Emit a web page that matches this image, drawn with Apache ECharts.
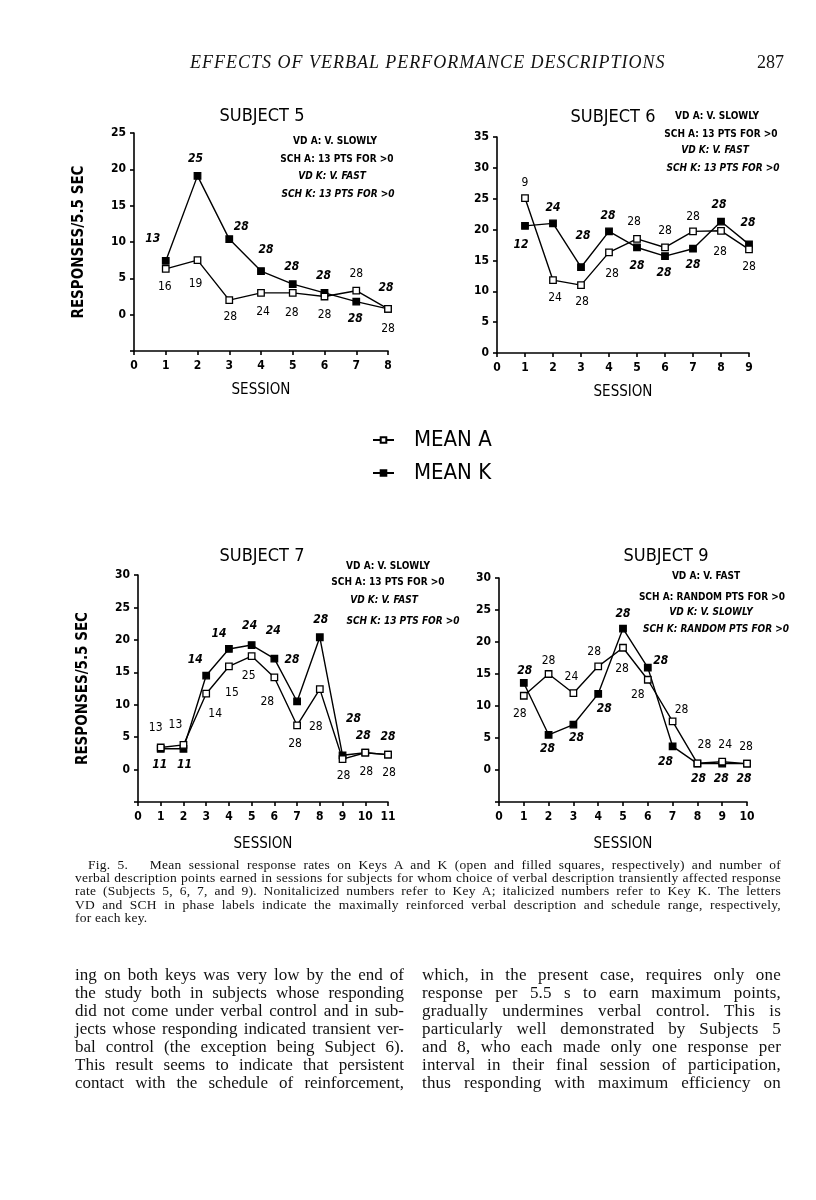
<!DOCTYPE html>
<html>
<head>
<meta charset="utf-8">
<script src="https://cdn.jsdelivr.net/npm/echarts@6/dist/echarts.min.js"></script>
<style>
  html, body { margin:0; padding:0; background:#fff; }
  #page { position:relative; width:816px; height:1200px; overflow:hidden; background:#fff; }
  #chart { position:absolute; left:0; top:0; width:816px; height:1200px; }
  .t { position:absolute; white-space:nowrap; color:#111; font-family:"Liberation Serif","Times New Roman",serif; }
  .j { text-align:justify; text-align-last:justify; white-space:normal; }
  .hdr { font-size:18px; line-height:20px; font-style:italic; letter-spacing:1px; }
  .cap { font-size:13.5px; line-height:13px; letter-spacing:0.25px; }
  .body { font-size:17px; line-height:18px; letter-spacing:0; }
  .rc { letter-spacing:0.2px; }
</style>
</head>
<body>
<div id="page">
  <div id="chart"></div>
  <div class="t hdr" style="left:190px;top:52px;">EFFECTS OF VERBAL PERFORMANCE DESCRIPTIONS</div>
  <div class="t hdr" style="left:757px;top:52px;font-style:normal;letter-spacing:0;">287</div>

  <div class="t cap j" style="left:88px;top:858px;width:693px;">Fig. 5.&nbsp;&nbsp; Mean sessional response rates on Keys A and K (open and filled squares, respectively) and number of</div>
  <div class="t cap j" style="left:75px;top:871px;width:706px;">verbal description points earned in sessions for subjects for whom choice of verbal description transiently affected response</div>
  <div class="t cap j" style="left:75px;top:884px;width:706px;">rate (Subjects 5, 6, 7, and 9). Nonitalicized numbers refer to Key A; italicized numbers refer to Key K. The letters</div>
  <div class="t cap j" style="left:75px;top:898px;width:706px;">VD and SCH in phase labels indicate the maximally reinforced verbal description and schedule range, respectively,</div>
  <div class="t cap" style="left:75px;top:911px;">for each key.</div>

  <div class="t body j" style="left:75px;top:966px;width:329px;">ing on both keys was very low by the end of</div>
  <div class="t body j" style="left:75px;top:984px;width:329px;">the study both in subjects whose responding</div>
  <div class="t body j" style="left:75px;top:1002px;width:329px;">did not come under verbal control and in sub-</div>
  <div class="t body j" style="left:75px;top:1020px;width:329px;">jects whose responding indicated transient ver-</div>
  <div class="t body j" style="left:75px;top:1038px;width:329px;">bal control (the exception being Subject 6).</div>
  <div class="t body j" style="left:75px;top:1056px;width:329px;">This result seems to indicate that persistent</div>
  <div class="t body j" style="left:75px;top:1074px;width:329px;">contact with the schedule of reinforcement,</div>

  <div class="t body j rc" style="left:422px;top:966px;width:359px;">which, in the present case, requires only one</div>
  <div class="t body j rc" style="left:422px;top:984px;width:359px;">response per 5.5 s to earn maximum points,</div>
  <div class="t body j rc" style="left:422px;top:1002px;width:359px;">gradually undermines verbal control. This is</div>
  <div class="t body j rc" style="left:422px;top:1020px;width:359px;">particularly well demonstrated by Subjects 5</div>
  <div class="t body j rc" style="left:422px;top:1038px;width:359px;">and 8, who each made only one response per</div>
  <div class="t body j rc" style="left:422px;top:1056px;width:359px;">interval in their final session of participation,</div>
  <div class="t body j rc" style="left:422px;top:1074px;width:359px;">thus responding with maximum efficiency on</div>
</div>
<script>
// ---------------- DATA ----------------
const sessions5 = [1, 2, 3, 4, 5, 6, 7, 8];
const meanA5 = [6.3, 7.5, 2.0, 3.0, 3.0, 2.5, 3.3, 0.8];
const meanK5 = [7.4, 19.1, 10.4, 6.0, 4.2, 3.0, 1.8, 0.8];
const ptsA5 = [16, 19, 28, 24, 28, 28, 28, 28];
const ptsK5 = [13, 25, 28, 28, 28, 28, 28, 28];

const sessions6 = [1, 2, 3, 4, 5, 6, 7, 8, 9];
const meanA6 = [25.1, 11.8, 11.0, 16.3, 18.5, 17.1, 19.7, 19.8, 16.8];
const meanK6 = [20.6, 21.0, 13.9, 19.7, 17.1, 15.7, 16.9, 21.3, 17.6];
const ptsA6 = [9, 24, 28, 28, 28, 28, 28, 28, 28];
const ptsK6 = [12, 24, 28, 28, 28, 28, 28, 28, 28];

const sessions7 = [1, 2, 3, 4, 5, 6, 7, 8, 9, 10, 11];
const meanA7 = [3.4, 3.8, 11.7, 15.9, 17.5, 14.2, 6.8, 12.4, 1.6, 2.6, 2.3];
const meanK7 = [3.2, 3.2, 14.5, 18.6, 19.2, 17.1, 10.5, 20.4, 2.2, 2.6, 2.3];
const ptsA7 = [13, 13, 14, 15, 25, 28, 28, 28, 28, 28, 28];
const ptsK7 = [11, 11, 14, 14, 24, 24, 28, 28, 28, 28, 28];

const sessions9 = [1, 2, 3, 4, 5, 6, 7, 8, 9, 10];
const meanA9 = [11.6, 15.0, 12.0, 16.2, 19.1, 14.1, 7.6, 1.05, 1.3, 1.0];
const meanK9 = [13.6, 5.5, 7.1, 11.9, 22.1, 16.0, 3.7, 1.0, 1.0, 1.0];
const ptsA9 = [28, 28, 24, 28, 28, 28, 28, 28, 24, 28];
const ptsK9 = [28, 28, 28, 28, 28, 28, 28, 28, 28, 28];

const subjectTitles = ['SUBJECT 5', 'SUBJECT 6', 'SUBJECT 7', 'SUBJECT 9'];
const phaseLabels = [
  ['VD A: V. SLOWLY', 'SCH A: 13 PTS FOR >0', 'VD K: V. FAST', 'SCH K: 13 PTS FOR >0'],
  ['VD A: V. SLOWLY', 'SCH A: 13 PTS FOR >0', 'VD K: V. FAST', 'SCH K: 13 PTS FOR >0'],
  ['VD A: V. SLOWLY', 'SCH A: 13 PTS FOR >0', 'VD K: V. FAST', 'SCH K: 13 PTS FOR >0'],
  ['VD A: V. FAST', 'SCH A: RANDOM PTS FOR >0', 'VD K: V. SLOWLY', 'SCH K: RANDOM PTS FOR >0']
];
const yAxisTitle = 'RESPONSES/5.5 SEC';
const xAxisTitle = 'SESSION';
const legendNames = ['MEAN A', 'MEAN K'];

// ---------------- LAYOUT (pixel positions / offsets) ----------------
const SANS = '"Liberation Sans Narrow","DejaVu Sans Condensed","Liberation Sans",Arial,sans-serif';
const grids = [
  {left: 134, top: 133, width: 254, height: 218, xmax: 8,  ymin: -5, ymax: 25, yName: true},
  {left: 497, top: 137, width: 252, height: 216, xmax: 9,  ymin: 0,  ymax: 35, yName: false},
  {left: 138, top: 575, width: 250, height: 227, xmax: 11, ymin: -5, ymax: 30, yName: true},
  {left: 499, top: 578, width: 248, height: 224, xmax: 10, ymin: -5, ymax: 30, yName: false}
];
const titlePos = [[257, 102], [608, 103], [257, 542], [661, 542]];
const phasePos = [
  [[335, 141], [337, 159], [332, 176], [338, 194]],
  [[717, 116], [721, 134], [715, 150], [723, 168]],
  [[388, 566], [388, 582], [384, 600], [403, 621]],
  [[706, 576], [712, 597], [711, 612], [716, 629]]
];
const offA5 = [[-1,18],[-2,24],[1,17],[2,19],[-1,20],[0,18],[0,-17],[0,20]];
const offK5 = [[-13,-22],[-2,-17],[12,-12],[5,-21],[-1,-17],[-1,-17],[-1,17],[-2,-21]];
const offA6 = [[0,-15],[2,18],[1,17],[3,21],[-3,-17],[0,-17],[0,-15],[-1,21],[0,18]];
const offK6 = [[-4,19],[0,-16],[2,-31],[-1,-16],[0,18],[-1,17],[0,16],[-2,-17],[-1,-22]];
const offA7 = [[-5,-20],[-8,-20],[9,20],[3,26],[-3,20],[-7,24],[-2,18],[-4,38],[1,17],[1,19],[1,18]];
const offK7 = [[-1,16],[1,16],[-11,-16],[-10,-15],[-2,-19],[-1,-28],[-5,-42],[1,-17],[11,-36],[-2,-17],[0,-18]];
const offA9 = [[-4,18],[0,-13],[-2,-16],[-4,-14],[-1,21],[-10,15],[9,-11],[7,-18],[3,-17],[-1,-17]];
const offK9 = [[1,-12],[-1,14],[3,13],[6,15],[0,-15],[13,-7],[-7,16],[1,15],[-1,15],[-3,15]];

const subjects = [
  {sessions: sessions5, A: meanA5, K: meanK5, pA: ptsA5, pK: ptsK5, oA: offA5, oK: offK5},
  {sessions: sessions6, A: meanA6, K: meanK6, pA: ptsA6, pK: ptsK6, oA: offA6, oK: offK6},
  {sessions: sessions7, A: meanA7, K: meanK7, pA: ptsA7, pK: ptsK7, oA: offA7, oK: offK7},
  {sessions: sessions9, A: meanA9, K: meanK9, pA: ptsA9, pK: ptsK9, oA: offA9, oK: offK9}
];

// ---------------- BUILD OPTION ----------------
const axisLineStyle = {color: '#000', width: 1.6};
const option = {
  animation: false,
  backgroundColor: 'transparent',
  title: subjectTitles.map((t, i) => ({
    text: t, left: titlePos[i][0], top: titlePos[i][1], textAlign: 'center',
    textStyle: {fontFamily: SANS, fontSize: 18, fontWeight: 'normal', color: '#000'}
  })),
  legend: {
    data: legendNames, orient: 'vertical', left: 367, top: 424,
    itemWidth: 21, itemHeight: 7, itemGap: 11, selectedMode: false,
    textStyle: {fontFamily: SANS, fontSize: 22, color: '#000', padding: [0, 0, 0, 15]}
  },
  grid: grids.map(g => ({left: g.left, top: g.top, width: g.width, height: g.height, containLabel: false})),
  xAxis: grids.map((g, i) => ({
    type: 'value', gridIndex: i, min: 0, max: g.xmax, interval: 1,
    name: xAxisTitle, nameLocation: 'middle', nameGap: i < 2 ? 32 : 35,
    nameTextStyle: {fontFamily: SANS, fontSize: 15, color: '#000'},
    axisLine: {onZero: false, lineStyle: axisLineStyle},
    axisTick: {show: true, inside: false, length: 4, lineStyle: axisLineStyle},
    axisLabel: {margin: 9, color: '#000', fontFamily: SANS, fontSize: 12, fontWeight: 'bold'},
    splitLine: {show: false}
  })),
  yAxis: grids.map((g, i) => ({
    type: 'value', gridIndex: i, min: g.ymin, max: g.ymax, interval: 5,
    name: g.yName ? yAxisTitle : '', nameLocation: 'middle', nameRotate: 90, nameGap: 47,
    nameTextStyle: {fontFamily: SANS, fontSize: 15, fontWeight: 'bold', color: '#000'},
    axisLine: {onZero: false, lineStyle: axisLineStyle},
    axisTick: {show: true, inside: false, length: 4, lineStyle: axisLineStyle},
    axisLabel: {margin: 8, color: '#000', fontFamily: SANS, fontSize: 12, fontWeight: 'bold',
      formatter: v => (v < 0 ? '' : String(v))},
    splitLine: {show: false}
  })),
  graphic: [],
  series: []
};

phaseLabels.forEach((lines, i) => {
  lines.forEach((txt, j) => {
    option.graphic.push({
      type: 'text', x: phasePos[i][j][0], y: phasePos[i][j][1], silent: true,
      style: {text: txt, fill: '#000', align: 'center', verticalAlign: 'middle',
        font: (j >= 2 ? 'italic ' : '') + 'bold 10px ' + SANS}
    });
  });
});

function makeSeries(idx, s, filled) {
  const vals = filled ? s.K : s.A;
  const pts = filled ? s.pK : s.pA;
  const offs = filled ? s.oK : s.oA;
  return {
    type: 'line', name: filled ? legendNames[1] : legendNames[0],
    xAxisIndex: idx, yAxisIndex: idx,
    symbol: 'rect', symbolSize: 6.5, showAllSymbol: true,
    z: filled ? 3 : 4,
    lineStyle: {color: '#000', width: 1.4},
    itemStyle: {color: filled ? '#000' : '#fff', borderColor: '#000', borderWidth: 1.3},
    emphasis: {disabled: true},
    label: {show: true, position: 'inside', color: '#000', fontFamily: SANS, fontSize: 12,
      fontStyle: filled ? 'italic' : 'normal', fontWeight: filled ? 'bold' : 'normal', textBorderWidth: 0},
    data: s.sessions.map((x, k) => ({
      value: [x, vals[k]],
      label: {formatter: String(pts[k]), offset: offs[k]}
    }))
  };
}
subjects.forEach((s, i) => {
  option.series.push(makeSeries(i, s, false));
  option.series.push(makeSeries(i, s, true));
});

const chart = echarts.init(document.getElementById('chart'), null, {renderer: 'canvas'});
chart.setOption(option);
</script>
</body>
</html>
